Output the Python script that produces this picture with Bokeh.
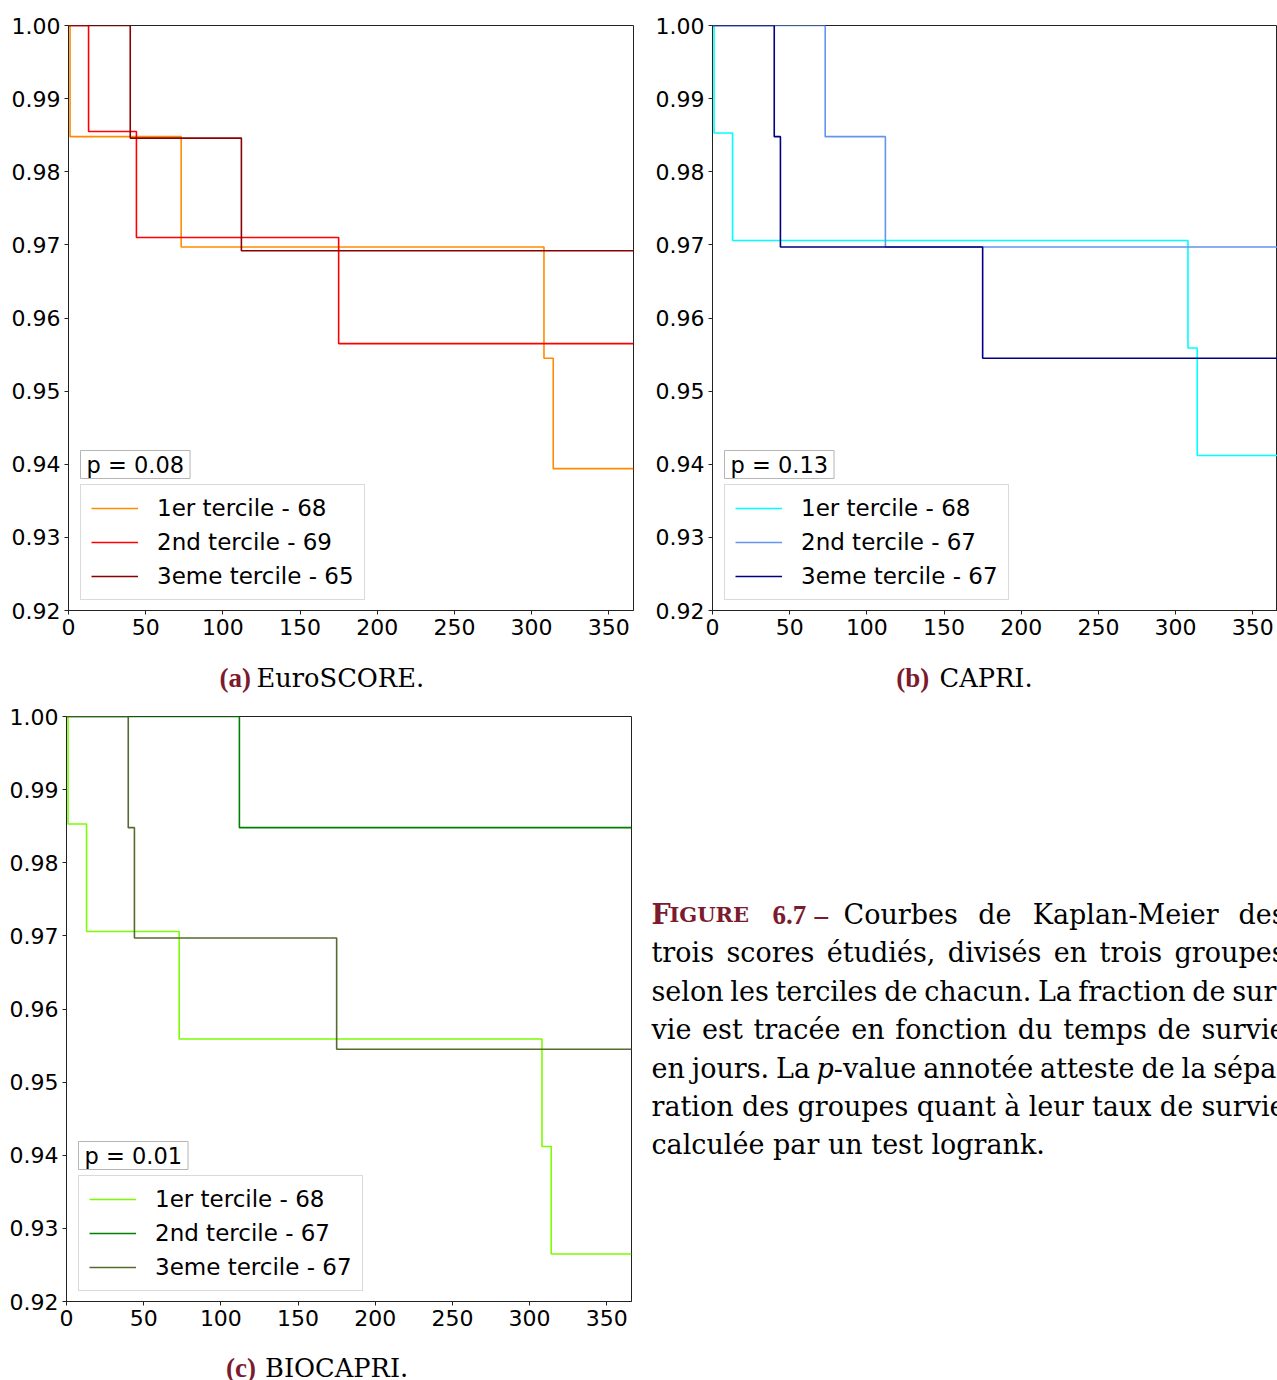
from bokeh.plotting import figure
from bokeh.models import Range1d, FixedTicker, PrintfTickFormatter, Legend, LegendItem, Label
from bokeh.layouts import row, column
from bokeh.embed import file_html
from bokeh.resources import INLINE
from bokeh.core.properties import value

# ---------------- data ----------------
x_ticks = [0, 50, 100, 150, 200, 250, 300, 350]
y_ticks = [0.92, 0.93, 0.94, 0.95, 0.96, 0.97, 0.98, 0.99, 1.00]
x_max = 366

# (a) EuroSCORE
euro_labels = ["1er tercile - 68", "2nd tercile - 69", "3eme tercile - 65"]
euro_colors = ["darkorange", "red", "darkred"]
euro_t1 = [0, 1, 73, 308, 314, 366]
euro_s1 = [1.0, 0.9848, 0.9697, 0.9545, 0.9394, 0.9394]
euro_t2 = [0, 13, 44, 175, 366]
euro_s2 = [1.0, 0.9855, 0.9710, 0.9565, 0.9565]
euro_t3 = [0, 40, 112, 366]
euro_s3 = [1.0, 0.9846, 0.9692, 0.9692]
euro_p = "p = 0.08"

# (b) CAPRI
capri_labels = ["1er tercile - 68", "2nd tercile - 67", "3eme tercile - 67"]
capri_colors = ["cyan", "cornflowerblue", "navy"]
capri_t1 = [0, 1, 13, 308, 314, 366]
capri_s1 = [1.0, 0.9853, 0.9706, 0.9559, 0.9412, 0.9412]
capri_t2 = [0, 73, 112, 366]
capri_s2 = [1.0, 0.9848, 0.9697, 0.9697]
capri_t3 = [0, 40, 44, 175, 366]
capri_s3 = [1.0, 0.9848, 0.9697, 0.9545, 0.9545]
capri_p = "p = 0.13"

# (c) BIOCAPRI
bio_labels = ["1er tercile - 68", "2nd tercile - 67", "3eme tercile - 67"]
bio_colors = ["lawngreen", "green", "darkolivegreen"]
bio_t1 = [0, 1, 13, 73, 308, 314, 366]
bio_s1 = [1.0, 0.9853, 0.9706, 0.9559, 0.9412, 0.9265, 0.9265]
bio_t2 = [0, 112, 366]
bio_s2 = [1.0, 0.9848, 0.9848]
bio_t3 = [0, 40, 44, 175, 366]
bio_s3 = [1.0, 0.9848, 0.9697, 0.9545, 0.9545]
bio_p = "p = 0.01"

# captions
sub_tags = ["(a)", "(b)", "(c)"]
sub_names = ["EuroSCORE.", "CAPRI.", "BIOCAPRI."]
caption_lines = [
    "Courbes de Kaplan-Meier des",
    "trois scores étudiés, divisés en trois groupes",
    "selon les terciles de chacun. La fraction de sur-",
    "vie est tracée en fonction du temps de survie",
    "en jours. La p-value annotée atteste de la sépa-",
    "ration des groupes quant à leur taux de survie",
    "calculée par un test logrank.",
]

CAPTION_RED = "#7B1B2D"
AX = "#222222"
BOXC = "#b5b5b5"


def km_figure(width, height, bl, br, bt, bb, series, colors, labels, ptext):
    p = figure(width=width, height=height,
               x_range=Range1d(0, x_max), y_range=Range1d(0.92, 1.0),
               output_backend="svg", toolbar_location=None,
               min_border_left=bl, min_border_right=br,
               min_border_top=bt, min_border_bottom=bb,
               background_fill_color="white", border_fill_color="white")
    p.grid.visible = False
    p.outline_line_color = AX
    p.outline_line_width = 1
    for ax in (p.xaxis[0], p.yaxis[0]):
        ax.axis_line_color = AX
        ax.axis_line_width = 1
        ax.major_tick_line_color = AX
        ax.major_tick_out = 4
        ax.major_tick_in = 0
        ax.minor_tick_line_color = None
        ax.major_label_text_font = "DejaVu Sans"
        ax.major_label_text_font_size = "22px"
        ax.major_label_text_color = "black"
        ax.major_label_standoff = 4
    p.xaxis.ticker = FixedTicker(ticks=x_ticks)
    p.yaxis.ticker = FixedTicker(ticks=y_ticks)
    p.yaxis.formatter = PrintfTickFormatter(format="%.2f")

    items = []
    for (t, s), c, lab in zip(series, colors, labels):
        r = p.step(t, s, mode="after", line_color=c, line_width=1.6)
        items.append(LegendItem(label=lab, renderers=[r]))

    legend = Legend(items=items, location=(12, 10))
    legend.label_text_font = "DejaVu Sans"
    legend.label_text_font_size = "23px"
    legend.label_text_color = "black"
    legend.glyph_width = 47
    legend.glyph_height = 24
    legend.label_height = 24
    legend.spacing = 8
    legend.padding = 10
    legend.label_standoff = 19
    legend.margin = 0
    legend.border_line_color = BOXC
    legend.border_line_width = 1
    legend.background_fill_color = "white"
    legend.background_fill_alpha = 1.0
    p.add_layout(legend)

    p.add_layout(Label(x=12, y=146, x_units="screen", y_units="screen",
                       text=ptext, text_font="DejaVu Sans", text_font_size="22.5px",
                       text_color="black", text_align="left", text_baseline="middle",
                       border_line_color=BOXC, border_line_width=1,
                       background_fill_color="white", padding=dict(x=6, y=1)))
    return p


def blank_figure(width, height, xr=None, bl=0, br=0):
    f = figure(width=width, height=height,
               x_range=xr if xr is not None else Range1d(0, width),
               y_range=Range1d(0, height),
               output_backend="svg", toolbar_location=None,
               x_axis_type=None, y_axis_type=None,
               min_border_left=bl, min_border_right=br, min_border_top=0, min_border_bottom=0,
               background_fill_color="white", border_fill_color="white")
    f.grid.visible = False
    f.outline_line_color = None
    return f


def sub_caption(f, tags, names, tag_x, name_x, y):
    f.text(x=tag_x, y=[y] * len(tags), text=tags,
           text_font=value("Liberation Serif"), text_font_style="bold",
           text_font_size=value("27px"), text_color=CAPTION_RED,
           text_align="left", text_baseline="alphabetic")
    f.text(x=name_x, y=[y] * len(names), text=names,
           text_font=value("DejaVu Serif"), text_font_size=value("25.7px"),
           text_color="black", text_align="left", text_baseline="alphabetic")


# ---- row 1: plots (a) and (b) ----
fa = km_figure(640, 650, 68, 7, 25, 40,
               [(euro_t1, euro_s1), (euro_t2, euro_s2), (euro_t3, euro_s3)],
               euro_colors, euro_labels, euro_p)
fb = km_figure(637, 650, 72, 0, 25, 40,
               [(capri_t1, capri_s1), (capri_t2, capri_s2), (capri_t3, capri_s3)],
               capri_colors, capri_labels, capri_p)

# ---- sub-captions (a), (b): strip page y 650..700 ----
capab = blank_figure(1277, 50)
sub_caption(capab, sub_tags[:2], sub_names[:2], [219.0, 895.7], [256.0, 939.0],
            700 - 686.7 + 9.5)

# ---- row 2: plot (c) ----
fc = km_figure(640, 640, 66, 9, 16, 39,
               [(bio_t1, bio_s1), (bio_t2, bio_s2), (bio_t3, bio_s3)],
               bio_colors, bio_labels, bio_p)
# strip under (c): its frame is aligned with fc's frame (page x 66..631)
capc = blank_figure(640, 40, xr=Range1d(66, 631), bl=66, br=9)
sub_caption(capc, sub_tags[2:], sub_names[2:], [225.5], [264.5], 40 - 36.7 + 9.5)

# ---- figure caption (page x 640..1277, y 700..1380) ----
fcap = blank_figure(637, 680)
FS = 27
CW = {' ': .318, 'a': .596, 'b': .640, 'c': .560, 'd': .640, 'e': .592, 'f': .370,
      'g': .640, 'h': .644, 'i': .320, 'j': .310, 'k': .606, 'l': .320, 'm': .948,
      'n': .644, 'o': .602, 'p': .640, 'q': .640, 'r': .478, 's': .513, 't': .402,
      'u': .644, 'v': .565, 'w': .856, 'x': .564, 'y': .565, 'z': .525, 'é': .592,
      'à': .596, ',': .318, '.': .318, '-': .338, 'L': .652, 'K': .758, 'M': .952,
      'C': .734}


def tw(s):
    return FS * sum(CW.get(ch, .6) for ch in s)


X0 = 11.0            # page x 651
XR = 645.0           # right margin of justified text (page x 1285)
base0 = 1380 - 922.5 + 8.5
lead = 38.4

reg_x, reg_y, reg_t = [], [], []
it_x, it_y, it_t = [], [], []
for i, line in enumerate(caption_lines):
    yb = base0 - i * lead
    words = line.split(" ")
    widths = [tw(w) for w in words]
    start = 203.0 if i == 0 else X0
    if i < len(caption_lines) - 1:
        gap = (XR - start - sum(widths)) / (len(words) - 1)
    else:
        gap = tw(" ")
    x = start
    for w, wd in zip(words, widths):
        if w == "p-value":
            it_x.append(x); it_y.append(yb); it_t.append("p")
            reg_x.append(x + tw("p")); reg_y.append(yb); reg_t.append("-value")
        else:
            reg_x.append(x); reg_y.append(yb); reg_t.append(w)
        x += wd + gap

fcap.text(x=reg_x, y=reg_y, text=reg_t,
          text_font=value("DejaVu Serif"), text_font_size=value("27px"),
          text_color="black", text_align="left", text_baseline="alphabetic")
fcap.text(x=it_x, y=it_y, text=it_t,
          text_font=value("DejaVu Serif"), text_font_style="italic",
          text_font_size=value("27px"), text_color="black",
          text_align="left", text_baseline="alphabetic")

# "FIGURE 6.7 –" in bold small caps
fcap.text(x=[X0], y=[base0], text=["F"],
          text_font=value("DejaVu Serif"), text_font_style="bold",
          text_font_size=value("27px"), text_color=CAPTION_RED,
          text_align="left", text_baseline="alphabetic")
fcap.text(x=[29.0], y=[base0], text=["IGURE"],
          text_font=value("DejaVu Serif"), text_font_style="bold",
          text_font_size=value("21px"), text_color=CAPTION_RED,
          text_align="left", text_baseline="alphabetic")
fcap.text(x=[132.0, 174.0], y=[base0] * 2, text=["6.7", "–"],
          text_font=value("Liberation Serif"), text_font_style="bold",
          text_font_size=value("27px"), text_color=CAPTION_RED,
          text_align="left", text_baseline="alphabetic")

layout = column(row(fa, fb), capab, row(column(fc, capc), fcap))

open("out.html", "w").write(file_html(layout, INLINE))
